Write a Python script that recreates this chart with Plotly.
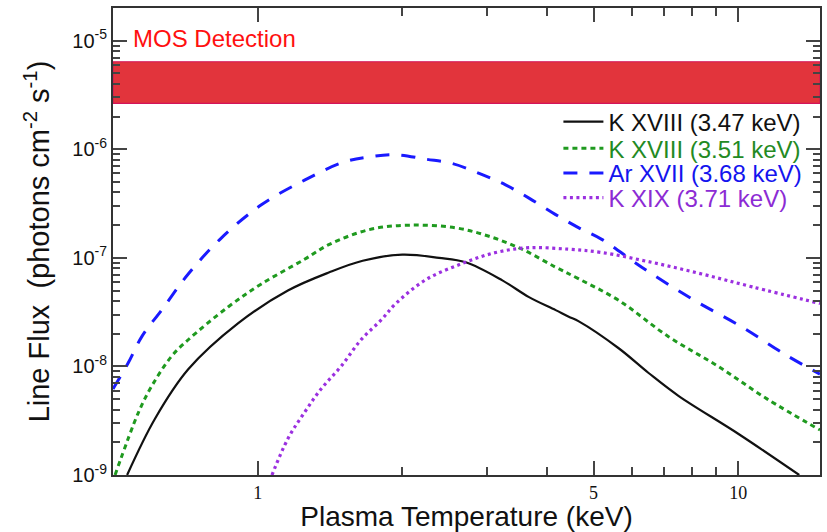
import math
import plotly.graph_objects as go

# Plasma temperature (keV) and line flux (photons cm^-2 s^-1) for each emission line
temp_k18_347 = [0.535, 0.611, 0.717, 0.91, 1.156, 1.41, 1.654, 2.0, 2.385, 2.71,
                3.23, 3.67, 4.17, 4.44, 4.66, 5.64, 6.51, 7.51, 10.0, 13.4]
flux_k18_347 = [1.0e-9, 3.28e-9, 9.4e-9, 2.49e-8, 5.0e-8, 7.36e-8, 9.4e-8, 1.07e-7,
                1.0e-7, 9.1e-8, 6.2e-8, 4.35e-8, 3.3e-8, 2.87e-8, 2.6e-8, 1.47e-8, 8.7e-9,
                5.36e-9, 2.4e-9, 1.0e-9]

temp_k18_351 = [0.505, 0.565, 0.602, 0.662, 0.717, 0.868, 1.018, 1.252, 1.41, 1.708, 2.07,
                2.58, 3.03, 3.55, 4.17, 4.66, 5.64, 7.16, 9.09, 11.5, 14.8]
flux_k18_351 = [1.0e-9, 3.78e-9, 6.6e-9, 1.24e-8, 1.76e-8, 3.53e-8, 5.75e-8, 9.7e-8, 1.33e-7,
                1.82e-7, 2.0e-7, 1.89e-7, 1.58e-7, 1.2e-7, 8.2e-8, 6.4e-8, 4.06e-8, 1.88e-8,
                1.0e-8, 5.0e-9, 2.6e-9]

temp_ar17_368 = [0.5, 0.538, 0.574, 0.631, 0.717, 0.841, 1.018, 1.252, 1.515, 1.708, 1.94,
                 2.24, 2.54, 2.89, 3.28, 3.67, 4.17, 4.66, 5.2, 6.3, 8.0, 10.16, 12.7, 14.8]
flux_ar17_368 = [6.2e-9, 1.08e-8, 1.88e-8, 3.3e-8, 7.1e-8, 1.53e-7, 3.08e-7, 5.2e-7, 7.65e-7,
                 8.5e-7, 8.9e-7, 8.1e-7, 7.4e-7, 6.0e-7, 4.7e-7, 3.55e-7, 2.5e-7, 1.89e-7,
                 1.48e-7, 8.2e-8, 4.2e-8, 2.32e-8, 1.24e-8, 8.5e-9]

temp_k19_371 = [1.071, 1.156, 1.252, 1.355, 1.491, 1.641, 1.806, 1.94, 2.24, 2.67, 3.13,
                3.67, 4.44, 5.2, 6.6, 8.4, 10.7, 14.8]
flux_k19_371 = [1.0e-9, 2.16e-9, 3.78e-9, 6.2e-9, 1.0e-8, 1.76e-8, 2.67e-8, 3.8e-8, 6.3e-8,
                8.9e-8, 1.12e-7, 1.24e-7, 1.2e-7, 1.12e-7, 9.1e-8, 7.1e-8, 5.4e-8, 3.8e-8]

line_names = ["K XVIII (3.47 keV)", "K XVIII (3.51 keV)", "Ar XVII (3.68 keV)", "K XIX (3.71 keV)"]

# MOS detection band (photons cm^-2 s^-1)
mos_flux_low = 2.65e-6
mos_flux_high = 6.4e-6

x_tick_vals = [1, 5, 10]
x_tick_text = ["1", "5", "10"]
y_tick_vals = [1e-9, 1e-8, 1e-7, 1e-6, 1e-5]
y_tick_text = ["10<sup>-9</sup>", "10<sup>-8</sup>", "10<sup>-7</sup>",
               "10<sup>-6</sup>", "10<sup>-5</sup>"]

x_range = [0.5, 14.8]
y_range = [1e-9, 2e-5]

SANS = "Liberation Sans, Arial, Helvetica, sans-serif"
SERIF = "Liberation Serif, Times New Roman, serif"

styles = [
    dict(color="#111111", width=2.2, dash="solid", text="#111111"),
    dict(color="#1f9a1f", width=3, dash="5px,4px", text="#238a23"),
    dict(color="#1a1aff", width=3, dash="14px,12px", text="#1414ee"),
    dict(color="#9b30e0", width=3.2, dash="3px,3.5px", text="#8c2bd4"),
]
data = [
    (temp_k18_347, flux_k18_347),
    (temp_k18_351, flux_k18_351),
    (temp_ar17_368, flux_ar17_368),
    (temp_k19_371, flux_k19_371),
]
legend_ids = ["legend", "legend2", "legend3", "legend4"]
legend_rows = [0.756, 0.699, 0.646, 0.593]

fig = go.Figure()

# detection band across the full temperature range
fig.add_trace(go.Scatter(
    x=[x_range[0], x_range[1], x_range[1], x_range[0], x_range[0]],
    y=[mos_flux_low, mos_flux_low, mos_flux_high, mos_flux_high, mos_flux_low],
    mode="lines", fill="toself", fillcolor="#e2343c",
    line=dict(color="#d3145a", width=1.2), showlegend=False, hoverinfo="skip",
))

for (tx, fy), name, st, lid in zip(data, line_names, styles, legend_ids):
    fig.add_trace(go.Scatter(
        x=tx, y=fy, name=name, mode="lines", legend=lid,
        line=dict(color=st["color"], width=st["width"], dash=st["dash"],
                  shape="spline", smoothing=1.0),
    ))

fig.add_annotation(text="MOS Detection", xref="paper", yref="paper", x=0.026, y=0.934,
                   xanchor="left", yanchor="middle", showarrow=False,
                   font=dict(family=SANS, size=24, color="#ff1010"))

# log minor ticks
x_minor = [2, 3, 4, 6, 7, 8, 9]
y_minor = [k * 10.0 ** e for e in range(-9, -4) for k in range(2, 10)
           if k * 10.0 ** e <= y_range[1]]

legend_layout = {}
for lid, row, st in zip(legend_ids, legend_rows, styles):
    legend_layout[lid] = dict(
        x=0.63, y=row, xanchor="left", yanchor="middle",
        bgcolor="rgba(0,0,0,0)", borderwidth=0, itemwidth=40,
        font=dict(family=SANS, size=24, color=st["text"]),
    )

axis_common = dict(
    type="log", showgrid=False, zeroline=False,
    showline=True, linecolor="#333333", linewidth=2, mirror="allticks",
    ticks="inside", tickcolor="#444444", tickwidth=1.5, ticklen=14,
)

fig.update_layout(
    width=827, height=532,
    margin=dict(l=113, r=5, t=8, b=52),
    paper_bgcolor="white", plot_bgcolor="white",
    showlegend=True,
    xaxis=dict(
        **axis_common,
        range=[math.log10(x_range[0]), math.log10(x_range[1])],
        tickmode="array", tickvals=x_tick_vals, ticktext=x_tick_text,
        tickfont=dict(family=SERIF, size=18, color="#111111"),
        minor=dict(tickmode="array", tickvals=x_minor, ticks="inside", ticklen=8,
                   tickcolor="#444444", tickwidth=1.5),
        title=dict(text="Plasma Temperature (keV)", standoff=5,
                   font=dict(family=SANS, size=28, color="#111111")),
    ),
    yaxis=dict(
        **axis_common,
        range=[math.log10(y_range[0]), math.log10(y_range[1])],
        tickmode="array", tickvals=y_tick_vals, ticktext=y_tick_text,
        tickfont=dict(family=SANS, size=20, color="#111111"),
        minor=dict(tickmode="array", tickvals=y_minor, ticks="inside", ticklen=7,
                   tickcolor="#444444", tickwidth=1.5),
        title=dict(text="Line Flux  (photons cm<sup>-2</sup> s<sup>-1</sup>)", standoff=14,
                   font=dict(family=SANS, size=29, color="#111111")),
    ),
    **legend_layout,
)

fig.write_html("out.html")
